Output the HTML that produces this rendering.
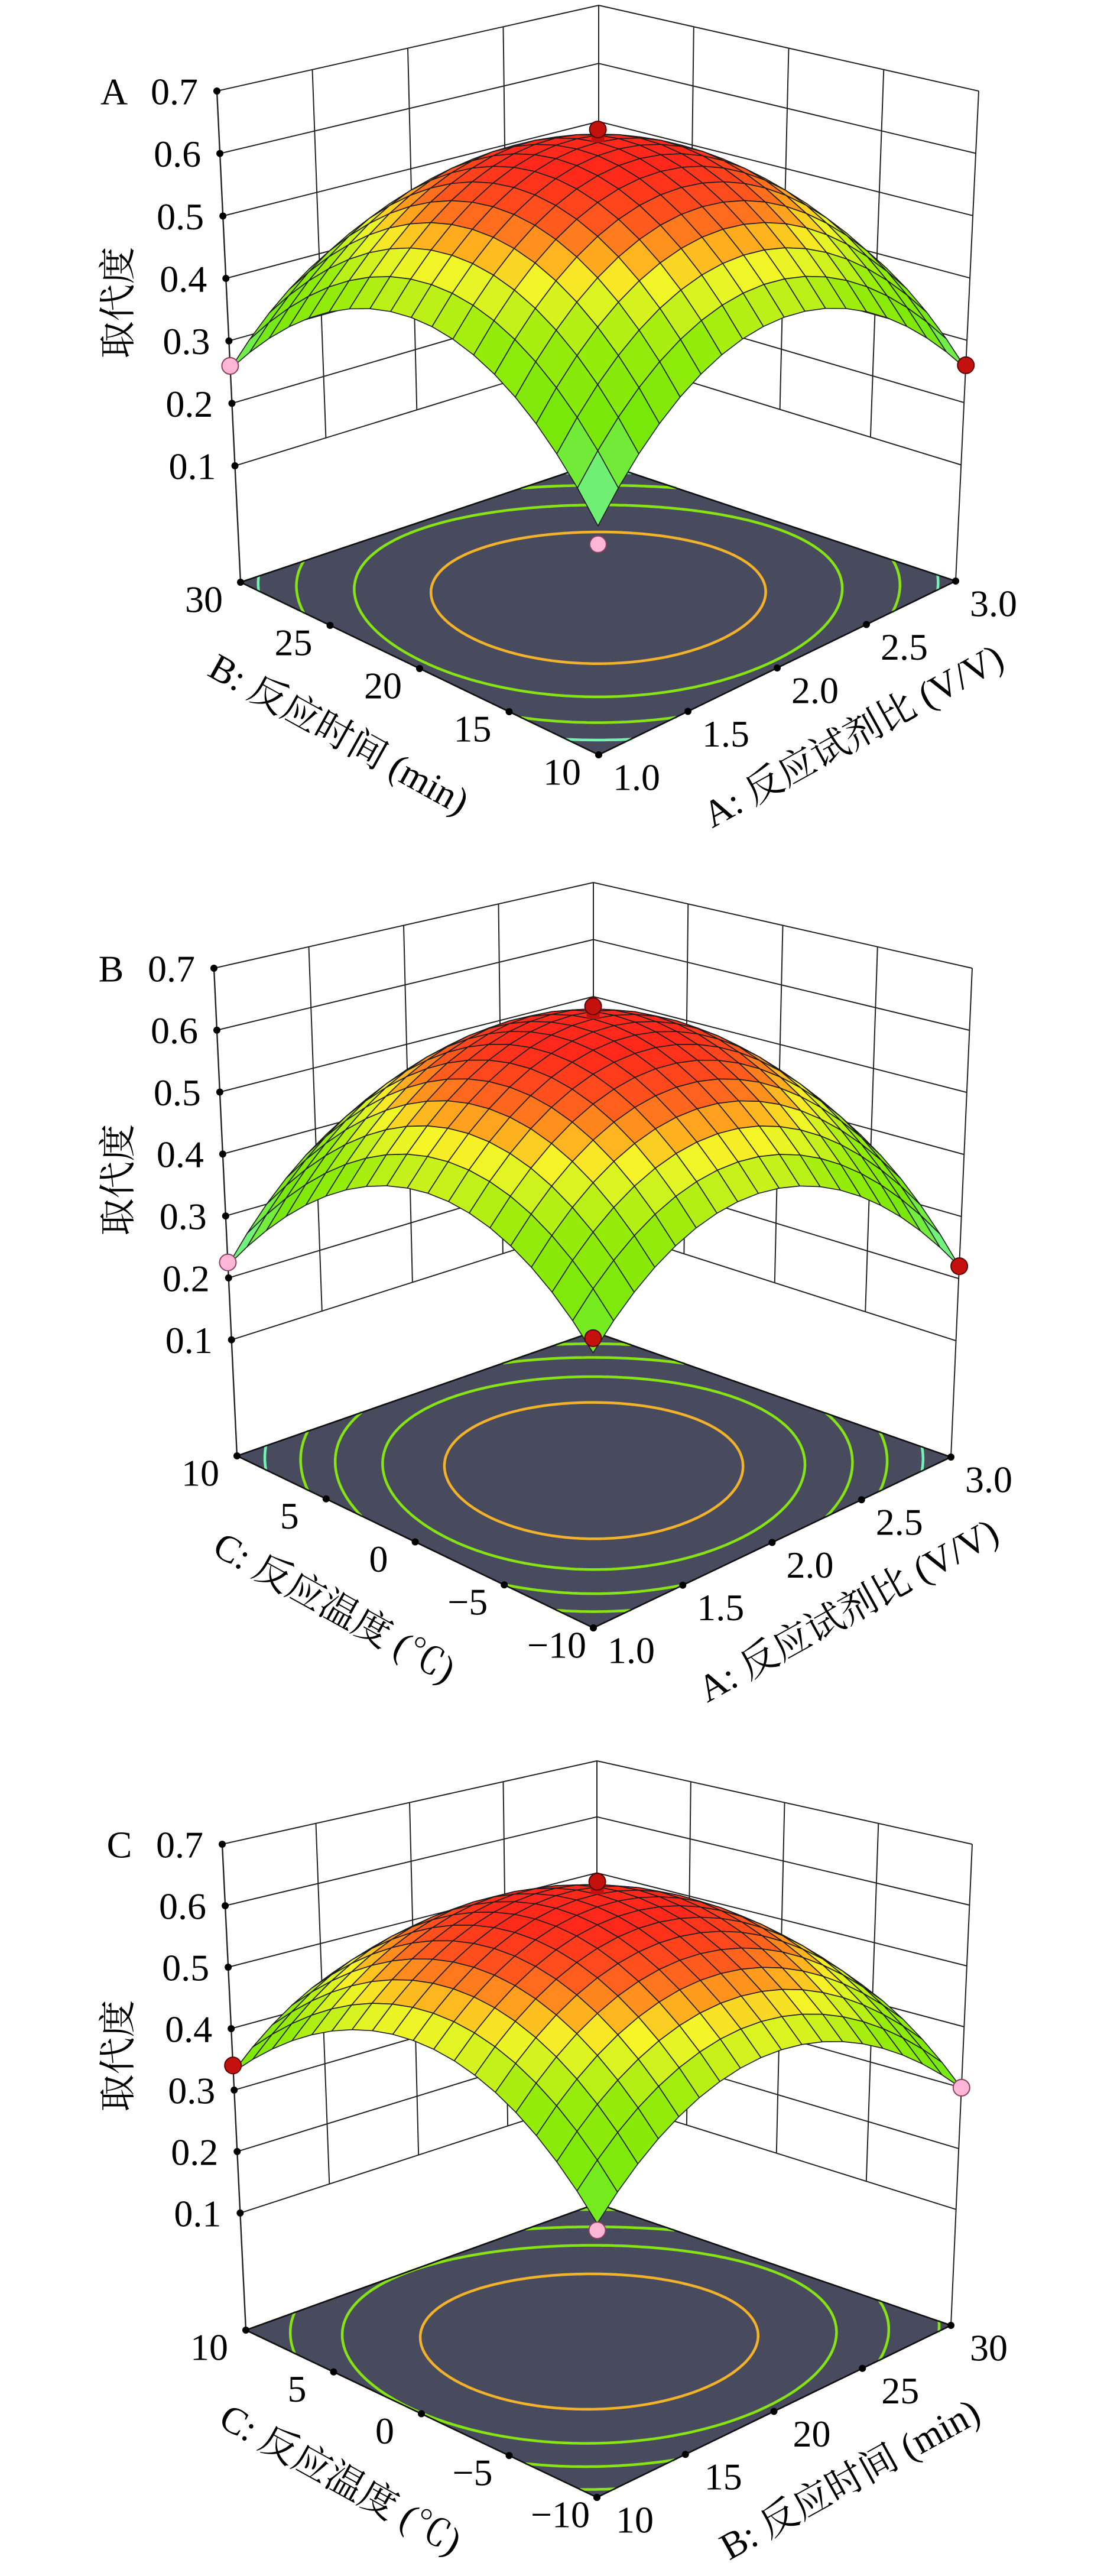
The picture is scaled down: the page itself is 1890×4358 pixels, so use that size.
<!DOCTYPE html>
<html><head><meta charset="utf-8">
<style>
html,body{margin:0;padding:0;background:#fff;}
svg{display:block;}
text{font-family:"Liberation Serif","Noto Serif CJK SC",serif;fill:#000;}
</style></head>
<body>
<svg id="chart" width="1890" height="4358" viewBox="0 0 1890 4358" xmlns="http://www.w3.org/2000/svg"></svg>
<script>
// ---- data ----
const zTicks = [0.1,0.2,0.3,0.4,0.5,0.6,0.7];
const panelLetters = ['A','B','C'];
const uTickLabelsA = ['1.0','1.5','2.0','2.5','3.0'];
const vTickLabelsA = ['10','15','20','25','30'];
const uTickLabelsB = ['1.0','1.5','2.0','2.5','3.0'];
const vTickLabelsB = ['\u221210','\u22125','0','5','10'];
const uTickLabelsC = ['10','15','20','25','30'];
const vTickLabelsC = ['\u221210','\u22125','0','5','10'];
const uTitles = ['A: 反应试剂比 (V/V)','A: 反应试剂比 (V/V)','B: 反应时间 (min)'];
const vTitles = ['B: 反应时间 (min)','C: 反应温度 (℃)','C: 反应温度 (℃)'];
// model coefficients z = p - a u^2 - b v^2 + c u v + d u + e v  (u,v in -1..1)
const modelP = [0.62,0.62,0.62];
const modelA = [0.19,0.1825,0.159];
const modelB = [0.19,0.1825,0.159];
const modelC = [-0.015,0.035,-0.0125];
const modelD = [0,0,-0.0075];
const modelE = [0,0,0.0075];
const contourLevelsA = [0.54,0.45,0.36,0.29];
const contourLevelsB = [0.55,0.48,0.41,0.35,0.28];
const contourLevelsC = [0.55,0.47,0.40,0.32];
// design points: [u(0..1), v(0..1), value, type]
const pointsA = [[0.5,0.5,0.64,'red'],[0,1,0.26,'pink'],[1,0,0.26,'red'],[0,0,0.20,'pink']];
const pointsB = [[0.5,0.5,0.64,'red'],[0,1,0.225,'pink'],[1,0,0.22,'red'],[0,0,0.31,'red']];
const pointsC = [[0.5,0.5,0.64,'red'],[0,1,0.34,'red'],[1,0,0.30,'pink'],[0,0,0.28,'pink']];

// ---- geometry (screen frame of each cube) ----
const frames = [
 {bt:[1013,9],lt:[367,154],rt:[1656,154],bf:[1013,782],lf:[407,985],rf:[1617,983],ff:[1013,1277],t01:0.237},
 {bt:[1004,1493],lt:[362,1638],rt:[1645,1638],bf:[1004,2253],lf:[401,2463],rf:[1609,2465],ff:[1004,2754],t01:0.238},
 {bt:[1010,2979],lt:[376,3120],rt:[1645,3120],bf:[1010,3728],lf:[416,3942],rf:[1609,3934],ff:[1010,4225],t01:0.241}
];
const NS='http://www.w3.org/2000/svg';
const svg=document.getElementById('chart');
function mk(tag,attrs,parent){const e=document.createElementNS(NS,tag);for(const k in attrs)e.setAttribute(k,attrs[k]);(parent||svg).appendChild(e);return e;}

const stops=[[0.15,[140,255,235]],[0.22,[120,245,200]],[0.28,[110,238,90]],[0.34,[120,232,10]],[0.42,[150,236,10]],[0.46,[205,242,30]],[0.49,[245,245,40]],[0.52,[255,170,30]],[0.555,[255,90,30]],[0.60,[255,40,26]]];
function cmap(z){
  if(z<=stops[0][0])return 'rgb('+stops[0][1]+')';
  for(let i=1;i<stops.length;i++){if(z<=stops[i][0]){const f=(z-stops[i-1][0])/(stops[i][0]-stops[i-1][0]);const a=stops[i-1][1],b=stops[i][1];return 'rgb('+a.map((x,k)=>Math.round(x+(b[k]-x)*f)).join(',')+')';}}
  return 'rgb('+stops[stops.length-1][1]+')';
}
function contourColor(L){return L>=0.52?'#f2b22a':(L>=0.30?'#86e414':'#74f2b4');}

const uTickSets=[uTickLabelsA,uTickLabelsB,uTickLabelsC];
const vTickSets=[vTickLabelsA,vTickLabelsB,vTickLabelsC];
const levelSets=[contourLevelsA,contourLevelsB,contourLevelsC];
const pointSets=[pointsA,pointsB,pointsC];

frames.forEach((F,pi)=>{
  const g=mk('g',{});
  
  
  const ft=[F.lt[0]+F.rt[0]-F.bt[0],F.lt[1]+F.rt[1]-F.bt[1]];
  function bil(A,R,L,B,u,v){return [A[0]*(1-u)*(1-v)+R[0]*u*(1-v)+L[0]*(1-u)*v+B[0]*u*v, A[1]*(1-u)*(1-v)+R[1]*u*(1-v)+L[1]*(1-u)*v+B[1]*u*v];}
  function zt(z){return F.t01+(z-0.1)*(1-F.t01)/0.6;}
  function proj(u,v,z){const t=zt(z);const a=bil(F.ff,F.rf,F.lf,F.bf,u,v),b=bil(ft,F.rt,F.lt,F.bt,u,v);return [a[0]+(b[0]-a[0])*t,a[1]+(b[1]-a[1])*t];}
  function projT(u,v,t){const a=bil(F.ff,F.rf,F.lf,F.bf,u,v),b=bil(ft,F.rt,F.lt,F.bt,u,v);return [a[0]+(b[0]-a[0])*t,a[1]+(b[1]-a[1])*t];}
  function model(u,v){const x=2*u-1,y=2*v-1;return modelP[pi]-modelA[pi]*x*x-modelB[pi]*y*y+modelC[pi]*x*y+modelD[pi]*x+modelE[pi]*y;}
  const line=(p,q,w,name)=>{const l=mk('line',{x1:p[0].toFixed(1),y1:p[1].toFixed(1),x2:q[0].toFixed(1),y2:q[1].toFixed(1),stroke:'#222',"stroke-width":w||2},g);return l;};

  // walls
  zTicks.forEach(z=>{
    line(proj(0,1,z),proj(1,1,z),2,'back-wall-gridline');
    line(proj(1,1,z),proj(1,0,z),2,'side-wall-gridline');
  });
  [0.25,0.5,0.75].forEach(s=>{
    line(proj(s,1,0.1),proj(s,1,0.7),2,'back-wall-gridline');
    line(proj(1,s,0.1),proj(1,s,0.7),2,'side-wall-gridline');
  });
  line(projT(0,1,0),proj(0,1,0.7),2.4,'z-axis-line');
  line(projT(1,1,0),proj(1,1,0.7),2,'back-corner-line');
  line(projT(1,0,0),proj(1,0,0.7),2,'right-corner-line');

  // floor
  const fl=[F.ff,F.rf,F.bf,F.lf];
  const floor=mk('polygon',{points:fl.map(p=>p.join(',')).join(' '),fill:'#484a5e',stroke:'#111','stroke-width':2.5},g);
  
  

  // contours (marching squares)
  const N=90;
  const vals=[];
  for(let i=0;i<=N;i++){vals.push([]);for(let j=0;j<=N;j++)vals[i].push(model(i/N,j/N));}
  levelSets[pi].forEach(L=>{
    let d='';
    for(let i=0;i<N;i++)for(let j=0;j<N;j++){
      const c=[[i,j],[i+1,j],[i+1,j+1],[i,j+1]];
      const pts=[];
      for(let k=0;k<4;k++){const A=c[k],B=c[(k+1)%4];const va=vals[A[0]][A[1]],vb=vals[B[0]][B[1]];
        if((va<L)!==(vb<L)){const f=(L-va)/(vb-va);pts.push([(A[0]+(B[0]-A[0])*f)/N,(A[1]+(B[1]-A[1])*f)/N]);}}
      for(let k=0;k+1<pts.length;k+=2){const p=projT(pts[k][0],pts[k][1],0),q=projT(pts[k+1][0],pts[k+1][1],0);d+='M'+p[0].toFixed(1)+' '+p[1].toFixed(1)+'L'+q[0].toFixed(1)+' '+q[1].toFixed(1);}
    }
    const path=mk('path',{d:d,stroke:contourColor(L),'stroke-width':4.5,fill:'none','stroke-linecap':'round'},g);
    
    
  });
  mk('polygon',{points:fl.map(p=>p.join(',')).join(' '),fill:'none',stroke:'#111','stroke-width':2.5},g);

  // floor ticks & labels
  const ut=uTickSets[pi],vt=vTickSets[pi];
  ut.forEach((lab,k)=>{const s=k/(ut.length-1);const p=projT(s,0,0);
    const c=mk('circle',{cx:p[0],cy:p[1],r:6,fill:'#000'},g);
    const t=mk('text',{x:p[0]+64,y:p[1]+37,'font-size':64,'text-anchor':'middle',dy:'0.35em'},g);t.textContent=lab;
    });
  vt.forEach((lab,k)=>{const s=k/(vt.length-1);const p=projT(0,s,0);
    const c=mk('circle',{cx:p[0],cy:p[1],r:6,fill:'#000'},g);
    const t=mk('text',{x:p[0]-62,y:p[1]+28,'font-size':64,'text-anchor':'middle',dy:'0.35em'},g);t.textContent=lab;
    });
  // axis titles
  {const m=projT(0.5,0,0);const t=mk('text',{transform:'translate('+(m[0]+128)+','+(m[1]+114)+') rotate(-29)','font-size':64,'text-anchor':'middle',dy:'0.35em'},g);t.textContent=uTitles[pi];
   }
  {const m=projT(0,0.5,0);const t=mk('text',{transform:'translate('+(m[0]-136)+','+(m[1]+110)+') rotate(29)','font-size':64,'text-anchor':'middle',dy:'0.35em'},g);t.textContent=vTitles[pi];
   }

  // z ticks
  zTicks.forEach(z=>{const p=proj(0,1,z);
    const c=mk('circle',{cx:p[0],cy:p[1],r:6,fill:'#000'},g);
    const t=mk('text',{x:p[0]-32,y:p[1],'font-size':64,'text-anchor':'end',dy:'0.35em'},g);t.textContent=z.toFixed(1);
    });
  {const p=proj(0,1,0.7);const t=mk('text',{x:p[0]-174,y:p[1],'font-size':64,'text-anchor':'middle',dy:'0.35em'},g);t.textContent=panelLetters[pi];
   
   const t2=mk('text',{transform:'translate(199,'+(p[1]+358)+') rotate(-90)','font-size':63,'text-anchor':'middle',dy:'0.35em'},g);t2.textContent='取代度';
   }

  // surface
  const M=18;const quads=[];
  for(let i=0;i<M;i++)for(let j=0;j<M;j++)quads.push([i,j]);
  quads.sort((a,b)=>(b[0]+b[1])-(a[0]+a[1]));
  const sg=mk('g',{},g);
  
  
  quads.forEach(([i,j])=>{
    const cs=[[i,j],[i+1,j],[i+1,j+1],[i,j+1]];
    let zs=0;const pts=cs.map(([a,b])=>{const z=model(a/M,b/M);zs+=z;return proj(a/M,b/M,z);});
    const q=mk('polygon',{points:pts.map(p=>p[0].toFixed(1)+','+p[1].toFixed(1)).join(' '),fill:cmap(zs/4),stroke:'#1c1c1c','stroke-width':1.6,'stroke-linejoin':'round'},sg);
    
    
  });

  // design points
  pointSets[pi].forEach(([u,v,z,type])=>{
    const p=proj(u,v,z);const fill=type==='red'?'#c3120e':'#ffb6d6';const st=type==='red'?'#5a0000':'#8a4060';
    if(u===0.5&&v===0.5){const s=proj(u,v,model(u,v));const l=mk('line',{x1:p[0],y1:p[1],x2:s[0],y2:s[1],stroke:fill,'stroke-width':22},g);
      }
    const c=mk('circle',{cx:p[0].toFixed(1),cy:p[1].toFixed(1),r:14,fill:fill,stroke:st,'stroke-width':2},g);
    
    
  });
});
</script>
</body></html>
